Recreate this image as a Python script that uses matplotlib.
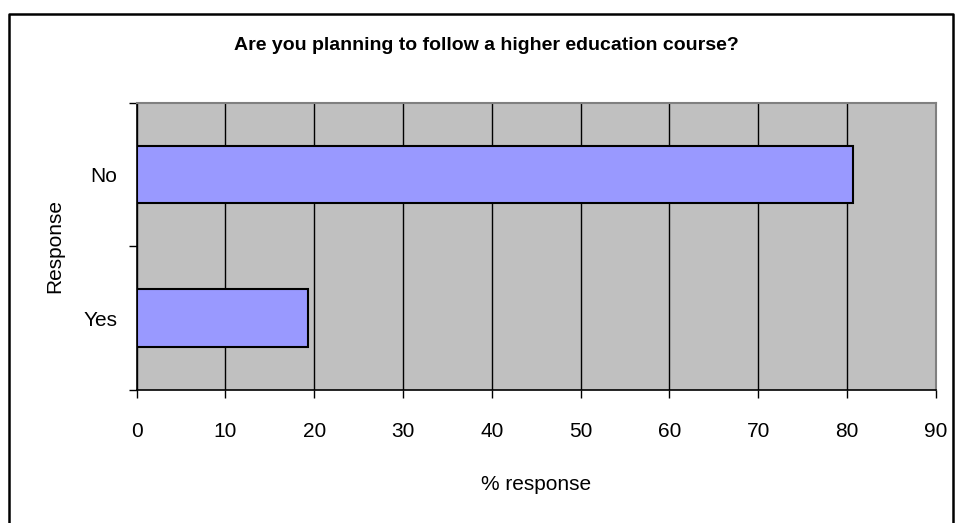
import matplotlib.pyplot as plt
from matplotlib.lines import Line2D

# Survey answers (% of respondents)
responses = ['Yes', 'No']
percent = [19.3, 80.7]
xticks = [0, 10, 20, 30, 40, 50, 60, 70, 80, 90]

plt.rcParams['font.family'] = ['Liberation Sans', 'DejaVu Sans']

W, H = 955, 523
fig = plt.figure(figsize=(W / 100, H / 100), dpi=100)
ax = fig.add_axes([136.7 / W, 1 - 390 / H, 799 / W, 287.3 / H])

ax.set_facecolor('#C0C0C0')
pos = [0.5 + i for i in range(len(responses))]
ax.barh(pos, percent, height=0.40, color='#9999FF', edgecolor='black',
        linewidth=1.5, zorder=3)

ax.set_xlim(0, 90)
ax.set_ylim(0, len(responses))
ax.set_xticks(xticks)
ax.set_xticklabels([str(t) for t in xticks], fontsize=15)
ax.xaxis.grid(True, color='black', linewidth=1.0, zorder=1)
ax.set_axisbelow(True)

# category boundaries get the ticks, labels sit in between
ax.set_yticks(range(len(responses) + 1))
ax.set_yticklabels([])
ax.set_yticks(pos, minor=True)
ax.set_yticklabels(responses, minor=True, fontsize=15)
ax.tick_params(axis='y', which='minor', length=0, pad=14)
ax.tick_params(axis='y', which='major', length=5.8, width=1, direction='out',
               color='black')
ax.tick_params(axis='x', length=5.8, width=1, direction='out', pad=17,
               color='black')

for side in ['left', 'bottom']:
    ax.spines[side].set_color('black')
    ax.spines[side].set_linewidth(1.2)
for side in ['top', 'right']:
    ax.spines[side].set_color('#808080')
    ax.spines[side].set_linewidth(1.5)

ax.set_xlabel('% response', fontsize=15, labelpad=25)
ax.set_ylabel('Response', fontsize=15, labelpad=14)

fig.text(486 / W, 1 - 45 / H,
         'Are you planning to follow a higher education course?',
         ha='center', va='center', fontsize=14, fontweight='bold')

# outer frame around the chart area
fx0, fx1 = 9 / W, 953 / W
fy0, fy1 = -0.05, 1 - 13.5 / H
fig.add_artist(Line2D([fx0, fx0, fx1, fx1], [fy0, fy1, fy1, fy0],
                      transform=fig.transFigure, color='black', linewidth=1.8))

fig.savefig('out.png', dpi=100)
